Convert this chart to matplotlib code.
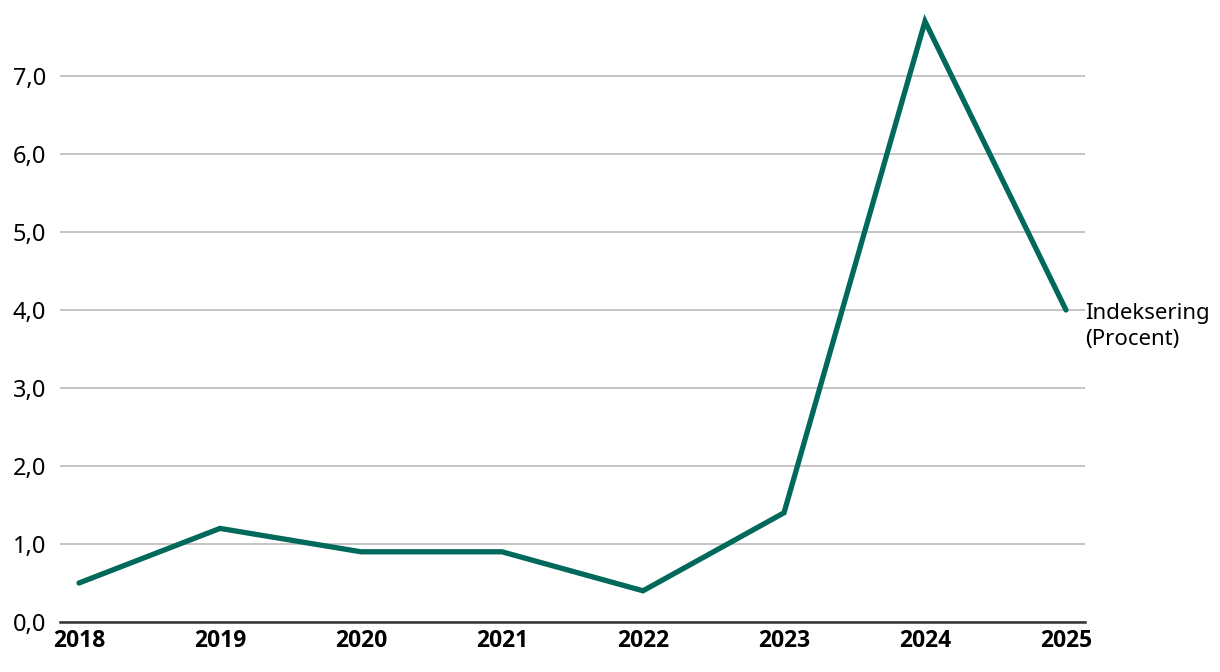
import matplotlib
matplotlib.use("Agg")
import matplotlib.pyplot as plt
from matplotlib import font_manager

plt.rcParams['font.family'] = ['Noto Sans', 'DejaVu Sans']

years = [2018, 2019, 2020, 2021, 2022, 2023, 2024, 2025]
indeksering = [0.5, 1.2, 0.9, 0.9, 0.4, 1.4, 7.7, 4.0]
yticks = [0, 1, 2, 3, 4, 5, 6, 7]
series_label = "Indeksering\n(Procent)"

green = "#00695c"

# bold face for the year labels
names = {f.name for f in font_manager.fontManager.ttflist if f.weight in ('bold', 700)}
bold_family = 'Noto Sans' if 'Noto Sans' in names else 'Open Sans'

fig = plt.figure(figsize=(12.2, 6.72), dpi=100)
ax = fig.add_axes([60/1220, 50/672, 1025/1220, (622-13.6)/672])

ax.plot(years, indeksering, color=green, lw=3.8, solid_capstyle='round',
        solid_joinstyle='miter', zorder=3)

ax.set_xlim(2018 - 19/141, 2025 + 19/141)
ax.set_ylim(0, 7.8)
ax.set_yticks(yticks)
ax.set_yticklabels([f"{v:.1f}".replace(".", ",") for v in yticks], fontsize=17)
ax.set_xticks(years)
ax.set_xticklabels([str(y) for y in years], fontsize=16.5,
                   fontweight='bold', family=[bold_family, 'DejaVu Sans'])

ax.grid(axis='y', color='#c4c4c4', lw=1.4)
ax.set_axisbelow(True)
for s in ['top', 'right', 'left']:
    ax.spines[s].set_visible(False)
ax.spines['bottom'].set_color('#333333')
ax.spines['bottom'].set_linewidth(1.8)
ax.tick_params(axis='both', length=0)
ax.tick_params(axis='y', pad=10)
ax.tick_params(axis='x', pad=5)

ax.annotate(series_label, xy=(years[-1], indeksering[-1]), xytext=(14, 5),
            textcoords='offset points', fontsize=16, va='top', ha='left',
            linespacing=1.3, annotation_clip=False)

fig.savefig("out.png", dpi=100)
